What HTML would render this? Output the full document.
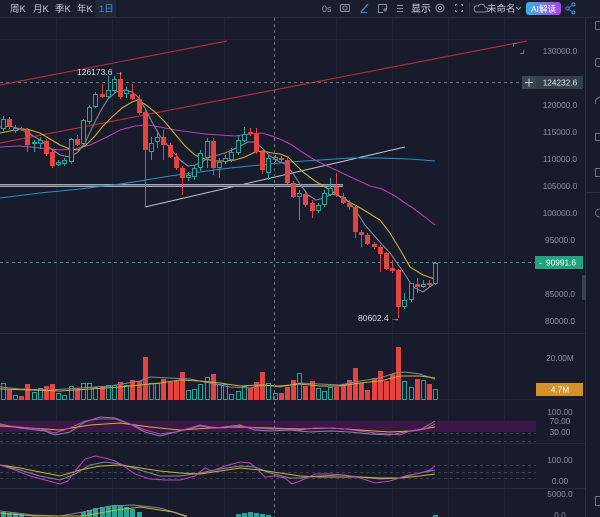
<!DOCTYPE html>
<html><head><meta charset="utf-8"><style>
html,body{margin:0;padding:0;background:#181b2b;width:600px;height:517px;overflow:hidden}
svg{display:block}
text{font-family:"Liberation Sans","Noto Sans CJK SC",sans-serif}
</style></head><body>
<svg width="600" height="517" viewBox="0 0 600 517" xmlns="http://www.w3.org/2000/svg">
<rect x="0" y="0" width="600" height="517" fill="#181b2b"/>
<!-- toolbar -->
<rect x="0" y="0" width="600" height="17" fill="#1a1d2e"/>
<line x1="0" y1="17.5" x2="600" y2="17.5" stroke="#272b3c"/>
<g font-size="9.5" fill="#c4c8d2">
<text x="10" y="12">周K</text><text x="33" y="12">月K</text><text x="55" y="12">季K</text><text x="77" y="12">年K</text>
</g>
<rect x="95" y="0" width="21" height="17" fill="#232839"/>
<text x="99" y="12" font-size="9.5" fill="#3d8fe0">1日</text>
<text x="322" y="12" font-size="9" fill="#9aa0ae">0s</text>
<rect x="340.5" y="4.5" width="9" height="7" rx="1" fill="none" stroke="#8a90a0"/><circle cx="345" cy="8" r="2" fill="none" stroke="#8a90a0"/>
<line x1="361" y1="12" x2="368" y2="4" stroke="#3d8fe0" stroke-width="1.3"/><line x1="361" y1="12.5" x2="367" y2="12.5" stroke="#3d8fe0"/>
<path d="M378.5 4.5 H386.5 V10.5 M378.5 4.5 V12.5 H383" fill="none" stroke="#8a90a0"/><path d="M383 10 h4 M385 8 v4" stroke="#8a90a0"/>
<path d="M397 5.5 h6 M397 8.5 h6 M397 11.5 h6" stroke="#8a90a0"/>
<text x="411" y="12" font-size="10" fill="#d4d7df">显示</text>
<circle cx="440" cy="8" r="4" fill="none" stroke="#8a90a0"/><circle cx="440" cy="8" r="1.5" fill="none" stroke="#8a90a0"/>
<path d="M455.5 6 V4.5 H457 M461 4.5 H462.5 V6 M462.5 10 V11.5 H461 M457 11.5 H455.5 V10" fill="none" stroke="#8a90a0"/>
<line x1="469.5" y1="2" x2="469.5" y2="16" stroke="#2c3042"/>
<path d="M476 12 h9 a2.5 2.5 0 0 0 0-5 a3.5 3.5 0 0 0-6.5-1 a2.8 2.8 0 0 0-2.5 6z" fill="none" stroke="#8a90a0"/>
<text x="487" y="12" font-size="9.5" fill="#c4c8d2">未命名</text>
<path d="M516 7 l2.5 2.5 l2.5-2.5" fill="none" stroke="#8a90a0"/>
<defs><linearGradient id="bt" x1="0" y1="0" x2="1" y2="0"><stop offset="0" stop-color="#35b6e6"/><stop offset="1" stop-color="#b043e6"/></linearGradient></defs>
<rect x="526" y="2" width="35" height="13" rx="3" fill="url(#bt)"/>
<text x="543.5" y="12" font-size="8.5" fill="#ffffff" text-anchor="middle">AI解读</text>
<g stroke="#3d8fe0" fill="none"><circle cx="567.5" cy="8.5" r="1.6"/><circle cx="573.5" cy="4.5" r="1.6"/><circle cx="573.5" cy="12.5" r="1.6"/><path d="M569 7.5 L572 5.5 M569 9.5 L572 11.5"/></g>
<!-- sidebar -->
<rect x="585" y="18" width="15" height="499" fill="#181b2b"/>
<line x1="585.5" y1="18" x2="585.5" y2="517" stroke="#2a2e40"/>
<g fill="none" stroke="#6f7585">
<rect x="595.5" y="21.5" width="8" height="8" rx="1"/><rect x="595.5" y="58.5" width="8" height="8" rx="2"/>
<path d="M595.5 104 v-4 l4-3 l4 3"/><rect x="595.5" y="133.5" width="8" height="7"/><rect x="595.5" y="168.5" width="8" height="8"/>
<circle cx="599.5" cy="213" r="4"/><rect x="595.5" y="496.5" width="8" height="9"/>
</g>
<line x1="586" y1="192.5" x2="600" y2="192.5" stroke="#2a2e40"/>
<rect x="582" y="275" width="4" height="25" rx="1.5" fill="#3a4055"/>
<!-- grid -->
<g stroke="#1f2334">
<line x1="56.5" y1="18" x2="56.5" y2="517"/><line x1="112.5" y1="18" x2="112.5" y2="517"/><line x1="168.5" y1="18" x2="168.5" y2="517"/><line x1="224.5" y1="18" x2="224.5" y2="517"/><line x1="336.5" y1="18" x2="336.5" y2="517"/><line x1="392.5" y1="18" x2="392.5" y2="517"/><line x1="448.5" y1="18" x2="448.5" y2="517"/><line x1="504.5" y1="18" x2="504.5" y2="517"/>
<line x1="0" y1="39.5" x2="585" y2="39.5"/><line x1="0" y1="399.5" x2="585" y2="399.5"/>
</g>
<g stroke="#262a3c"><line x1="0" y1="333.5" x2="585" y2="333.5"/><line x1="0" y1="443.5" x2="585" y2="443.5"/><line x1="0" y1="488.5" x2="585" y2="488.5"/></g>
<!-- rsi band -->
<rect x="0" y="421" width="536" height="11" fill="#3a1747"/>
<g stroke="#3a3f52" stroke-dasharray="3 3"><line x1="0" y1="433.5" x2="536" y2="433.5"/><line x1="0" y1="441.5" x2="536" y2="441.5"/>
<line x1="0" y1="465.5" x2="536" y2="465.5"/><line x1="0" y1="472.5" x2="536" y2="472.5"/><line x1="0" y1="478.5" x2="536" y2="478.5"/></g>
<!-- trend lines -->
<g stroke="#b02a3c" stroke-width="1.2"><line x1="0" y1="85" x2="227" y2="41"/><line x1="0" y1="143" x2="527" y2="41"/></g>
<line x1="145" y1="207" x2="405" y2="147" stroke="#c0c4cc" stroke-width="1"/>
<line x1="0" y1="184.5" x2="343" y2="184.5" stroke="#a0a5b0"/><line x1="0" y1="185.5" x2="343" y2="185.5" stroke="#5f6472"/><line x1="0" y1="186.5" x2="343" y2="186.5" stroke="#a0a5b0"/>
<!-- MAs -->
<g fill="none" stroke-width="1.1">
<polyline stroke="#2b8fc6" points="0,198 40,193 80,189 120,184 140,181 170,176 200,172 230,168 260,165 290,162 320,160 350,158 380,158 410,159 435,161"/>
<polyline stroke="#b73fb1" points="0,147 20,146 40,148 60,150 75,149 90,145 105,138 120,130 135,126 148,125 160,127 175,130 190,132 205,134 220,135 235,136 250,134 262,133 272,136 282,140 292,145 302,152 313,159 325,165 340,172 355,179 370,186 382,189 395,196 405,203 413,208 425,217 435,225"/>
<polyline stroke="#c9b52c" points="0,133 15,130 27,129 40,133 50,139 60,145 70,149 78,150 86,145 95,136 103,126 112,117 122,108 132,102 138,100 146,105 155,112 165,122 175,134 185,146 195,155 205,159 215,161 225,161 235,160 245,157 255,152 263,151 272,153 280,154 288,157 295,164 303,172 315,181 330,190 345,200 357,206 367,212 375,217 380,220 390,233 402,253 410,267 423,275 435,279"/>
<polyline stroke="#7f889a" points="0,127 10,126 20,129 30,134 40,140 50,148 60,155 70,157 78,152 85,143 92,128 100,112 108,99 116,92 125,90 132,92 138,97 145,108 152,122 160,136 170,148 180,160 188,166 195,165 202,162 210,157 218,155 225,153 232,150 240,146 248,142 255,142 262,148 270,156 278,161 285,164 292,172 300,184 308,195 316,200 324,198 332,194 343,197 350,203 358,214 365,225 378,240 390,253 402,270 413,287 423,292 435,283"/>
</g>
<!-- red candles -->
<g fill="#e5433f">
<rect x="9" y="117" width="1" height="12"/><rect x="7" y="119" width="5" height="8"/>
<rect x="21" y="127" width="1" height="4"/><rect x="19" y="128" width="5" height="2"/>
<rect x="27" y="128" width="1" height="24"/><rect x="25" y="130" width="5" height="15"/>
<rect x="46" y="139" width="1" height="17"/><rect x="44" y="141" width="5" height="13"/>
<rect x="52" y="150" width="1" height="18"/><rect x="50" y="152" width="5" height="14"/>
<rect x="77" y="135" width="1" height="11"/><rect x="75" y="139" width="5" height="6"/>
<rect x="102" y="84" width="1" height="14"/><rect x="100" y="94" width="5" height="3"/>
<rect x="120" y="72" width="1" height="27"/><rect x="118" y="79" width="5" height="18"/>
<rect x="132" y="84" width="1" height="16"/><rect x="130" y="94" width="5" height="5"/>
<rect x="139" y="95" width="1" height="20"/><rect x="137" y="99" width="5" height="14"/>
<rect x="145" y="110" width="1" height="97"/><rect x="143" y="112" width="5" height="38"/>
<rect x="163" y="130" width="1" height="30"/><rect x="161" y="137" width="5" height="8"/>
<rect x="170" y="143" width="1" height="15"/><rect x="168" y="145" width="5" height="12"/>
<rect x="176" y="153" width="1" height="17"/><rect x="174" y="157" width="5" height="11"/>
<rect x="182" y="166" width="1" height="29"/><rect x="180" y="168" width="5" height="10"/>
<rect x="213" y="138" width="1" height="37"/><rect x="211" y="141" width="5" height="27"/>
<rect x="250" y="128" width="1" height="8"/><rect x="248" y="132" width="5" height="2"/>
<rect x="256" y="128" width="1" height="26"/><rect x="254" y="134" width="5" height="18"/>
<rect x="262" y="150" width="1" height="24"/><rect x="260" y="152" width="5" height="18"/>
<rect x="281" y="156" width="1" height="7"/><rect x="279" y="158" width="5" height="2"/>
<rect x="287" y="158" width="1" height="26"/><rect x="285" y="160" width="5" height="23"/>
<rect x="293" y="181" width="1" height="17"/><rect x="291" y="183" width="5" height="14"/>
<rect x="305" y="192" width="1" height="15"/><rect x="303" y="194" width="5" height="11"/>
<rect x="312" y="200" width="1" height="18"/><rect x="310" y="203" width="5" height="8"/>
<rect x="336" y="173" width="1" height="24"/><rect x="334" y="187" width="5" height="8"/>
<rect x="343" y="193" width="1" height="11"/><rect x="341" y="197" width="5" height="6"/>
<rect x="349" y="200" width="1" height="10"/><rect x="347" y="203" width="5" height="4"/>
<rect x="355" y="205" width="1" height="33"/><rect x="353" y="207" width="5" height="25"/>
<rect x="361" y="230" width="1" height="17"/><rect x="359" y="232" width="5" height="3"/>
<rect x="367" y="233" width="1" height="12"/><rect x="365" y="235" width="5" height="9"/>
<rect x="374" y="242" width="1" height="7"/><rect x="372" y="244" width="5" height="3"/>
<rect x="380" y="245" width="1" height="27"/><rect x="378" y="247" width="5" height="7"/>
<rect x="386" y="252" width="1" height="18"/><rect x="384" y="253" width="5" height="16"/>
<rect x="392" y="260" width="1" height="13"/><rect x="390" y="268" width="5" height="3"/>
<rect x="398" y="269" width="1" height="49"/><rect x="396" y="270" width="5" height="37"/>
<rect x="417" y="278" width="1" height="15"/><rect x="415" y="284" width="5" height="3"/>
<rect x="429" y="280" width="1" height="7"/><rect x="427" y="283" width="5" height="2"/>
</g>
<!-- green candles -->
<g fill="#26a69a">
<rect x="3" y="116" width="1" height="15"/><rect x="15" y="125" width="1" height="8"/><rect x="34" y="140" width="1" height="12"/><rect x="40" y="137" width="1" height="12"/><rect x="58" y="160" width="1" height="6"/><rect x="64" y="158" width="1" height="8"/><rect x="71" y="138" width="1" height="26"/><rect x="83" y="119" width="1" height="26"/><rect x="89" y="105" width="1" height="19"/><rect x="95" y="92" width="1" height="16"/><rect x="108" y="76" width="1" height="22"/><rect x="114" y="76" width="1" height="17"/><rect x="126" y="87" width="1" height="11"/><rect x="151" y="137" width="1" height="23"/><rect x="157" y="130" width="1" height="18"/><rect x="188" y="172" width="1" height="9"/><rect x="194" y="165" width="1" height="15"/><rect x="200" y="150" width="1" height="21"/><rect x="207" y="138" width="1" height="30"/><rect x="219" y="158" width="1" height="20"/><rect x="225" y="155" width="1" height="9"/><rect x="231" y="148" width="1" height="14"/><rect x="238" y="135" width="1" height="20"/><rect x="244" y="127" width="1" height="15"/><rect x="268" y="155" width="1" height="25"/><rect x="275" y="155" width="1" height="7"/><rect x="299" y="190" width="1" height="30"/><rect x="318" y="203" width="1" height="10"/><rect x="324" y="190" width="1" height="17"/><rect x="330" y="178" width="1" height="18"/><rect x="404" y="293" width="1" height="16"/><rect x="411" y="283" width="1" height="19"/><rect x="423" y="280" width="1" height="8"/><rect x="435" y="262" width="1" height="23"/>
</g>
<g fill="#181b2b" stroke="#26a69a" stroke-width="1">
<rect x="1.5" y="119.5" width="4" height="9"/><rect x="13.5" y="128.5" width="4" height="2"/><rect x="32.5" y="142.5" width="4" height="1"/><rect x="38.5" y="140.5" width="4" height="3"/><rect x="56.5" y="162.5" width="4" height="2"/><rect x="62.5" y="160.5" width="4" height="3"/><rect x="69.5" y="139.5" width="4" height="22"/><rect x="81.5" y="120.5" width="4" height="23"/><rect x="87.5" y="107.5" width="4" height="14"/><rect x="93.5" y="94.5" width="4" height="12"/><rect x="106.5" y="90.5" width="4" height="6"/><rect x="112.5" y="79.5" width="4" height="11"/><rect x="124.5" y="90.5" width="4" height="3"/><rect x="149.5" y="143.5" width="4" height="8"/><rect x="155.5" y="137.5" width="4" height="4"/><rect x="186.5" y="175.5" width="4" height="2"/><rect x="192.5" y="168.5" width="4" height="8"/><rect x="198.5" y="153.5" width="4" height="14"/><rect x="205.5" y="141.5" width="4" height="16"/><rect x="217.5" y="162.5" width="4" height="5"/><rect x="223.5" y="158.5" width="4" height="3"/><rect x="229.5" y="152.5" width="4" height="7"/><rect x="236.5" y="140.5" width="4" height="12"/><rect x="242.5" y="134.5" width="4" height="6"/><rect x="266.5" y="158.5" width="4" height="14"/><rect x="273.5" y="157.5" width="4" height="2"/><rect x="297.5" y="193.5" width="4" height="3"/><rect x="316.5" y="205.5" width="4" height="5"/><rect x="322.5" y="193.5" width="4" height="11"/><rect x="328.5" y="188.5" width="4" height="6"/><rect x="402.5" y="300.5" width="4" height="6"/><rect x="409.5" y="283.5" width="4" height="16"/><rect x="421.5" y="284.5" width="4" height="2"/><rect x="433.5" y="263.5" width="4" height="20"/>
</g>
<!-- volume -->
<g fill="#e5433f">
<rect x="7" y="390" width="5" height="10"/><rect x="19" y="396" width="5" height="4"/><rect x="25" y="384" width="5" height="16"/><rect x="44" y="386" width="5" height="14"/><rect x="50" y="384" width="5" height="16"/><rect x="75" y="388" width="5" height="12"/><rect x="100" y="386" width="5" height="14"/><rect x="118" y="382" width="5" height="18"/><rect x="130" y="380" width="5" height="20"/><rect x="137" y="381" width="5" height="19"/><rect x="143" y="357" width="5" height="43"/><rect x="161" y="379" width="5" height="21"/><rect x="168" y="382" width="5" height="18"/><rect x="174" y="381" width="5" height="19"/><rect x="180" y="372" width="5" height="28"/><rect x="211" y="374" width="5" height="26"/><rect x="248" y="388" width="5" height="12"/><rect x="254" y="382" width="5" height="18"/><rect x="260" y="372" width="5" height="28"/><rect x="279" y="393" width="5" height="7"/><rect x="285" y="387" width="5" height="13"/><rect x="291" y="380" width="5" height="20"/><rect x="303" y="386" width="5" height="14"/><rect x="310" y="381" width="5" height="19"/><rect x="334" y="387" width="5" height="13"/><rect x="341" y="384" width="5" height="16"/><rect x="347" y="380" width="5" height="20"/><rect x="353" y="368" width="5" height="32"/><rect x="359" y="383" width="5" height="17"/><rect x="365" y="390" width="5" height="10"/><rect x="372" y="378" width="5" height="22"/><rect x="378" y="371" width="5" height="29"/><rect x="384" y="381" width="5" height="19"/><rect x="390" y="374" width="5" height="26"/><rect x="396" y="347" width="5" height="53"/><rect x="415" y="379" width="5" height="21"/><rect x="427" y="384" width="5" height="16"/>
</g>
<g fill="none" stroke="#26a69a" stroke-width="1">
<rect x="1.5" y="383.5" width="4" height="16"/><rect x="13.5" y="395.5" width="4" height="4"/><rect x="32.5" y="392.5" width="4" height="7"/><rect x="38.5" y="388.5" width="4" height="11"/><rect x="56.5" y="393.5" width="4" height="6"/><rect x="62.5" y="395.5" width="4" height="4"/><rect x="69.5" y="386.5" width="4" height="13"/><rect x="81.5" y="383.5" width="4" height="16"/><rect x="87.5" y="383.5" width="4" height="16"/><rect x="93.5" y="387.5" width="4" height="12"/><rect x="106.5" y="385.5" width="4" height="14"/><rect x="112.5" y="385.5" width="4" height="14"/><rect x="124.5" y="385.5" width="4" height="14"/><rect x="149.5" y="383.5" width="4" height="16"/><rect x="155.5" y="383.5" width="4" height="16"/><rect x="186.5" y="390.5" width="4" height="9"/><rect x="192.5" y="389.5" width="4" height="10"/><rect x="198.5" y="384.5" width="4" height="15"/><rect x="205.5" y="377.5" width="4" height="22"/><rect x="217.5" y="384.5" width="4" height="15"/><rect x="223.5" y="384.5" width="4" height="15"/><rect x="229.5" y="394.5" width="4" height="5"/><rect x="236.5" y="391.5" width="4" height="8"/><rect x="242.5" y="386.5" width="4" height="13"/><rect x="266.5" y="383.5" width="4" height="16"/><rect x="273.5" y="393.5" width="4" height="6"/><rect x="297.5" y="373.5" width="4" height="26"/><rect x="316.5" y="388.5" width="4" height="11"/><rect x="322.5" y="391.5" width="4" height="8"/><rect x="328.5" y="387.5" width="4" height="12"/><rect x="402.5" y="381.5" width="4" height="18"/><rect x="409.5" y="387.5" width="4" height="12"/><rect x="421.5" y="380.5" width="4" height="19"/><rect x="433.5" y="389.5" width="4" height="10"/>
</g>
<g fill="none" stroke-width="1">
<polyline stroke="#7f889a" points="0,387 20,389 50,390 80,388 110,386 140,381 150,377 170,378 190,379 210,383 230,387 250,388 265,385 280,387 300,383 320,384 340,385 360,381 380,378 395,373 405,372 420,374 435,379"/>
<polyline stroke="#c9b52c" points="0,389 30,390 60,391 90,389 120,387 140,385 160,383 180,380 200,381 220,383 240,386 260,385 280,386 300,384 320,386 340,386 360,383 380,381 400,376 420,376 435,378"/>
</g>
<!-- RSI -->
<g fill="none" stroke-width="1">
<polyline stroke="#7f889a" points="0,424 20,428 45,431 55,435 70,432 85,422 100,417 115,418 130,424 145,432 160,436 180,431 200,426 215,428 240,425 255,430 270,431 290,430 310,432 330,431 350,432 370,434 390,435 405,432 420,430 435,421"/>
<polyline stroke="#c9b52c" points="0,426 30,428 60,430 90,425 120,423 150,427 180,430 210,428 240,427 270,428 300,429 330,428 360,430 390,432 410,431 435,427"/>
<polyline stroke="#c43fbc" points="0,425 20,427 40,429 55,433 70,428 85,421 100,419 115,419 130,424 145,430 160,434 175,432 190,428 200,425 210,427 225,428 240,426 255,428 270,429 285,429 300,430 315,428 330,428 345,429 360,431 375,433 390,434 400,435 410,431 425,429 435,424"/>
</g>
<!-- KDJ -->
<g fill="none" stroke-width="1">
<polyline stroke="#7f889a" points="0,465 20,470 40,476 60,480 75,474 90,465 105,462 120,464 140,470 160,476 180,476 200,473 220,469 240,466 255,467 270,473 290,478 300,478 320,476 340,475 360,477 380,479 400,478 420,473 435,470"/>
<polyline stroke="#c9b52c" points="0,465 20,468 40,472 60,476 80,470 100,466 120,465 140,468 160,471 180,473 200,474 220,471 240,468 260,470 280,473 300,476 320,477 340,477 360,477 380,478 400,478 420,476 435,474"/>
<polyline stroke="#c43fbc" points="0,465 15,470 30,476 45,480 60,484 68,481 75,471 85,459 95,456 105,458 115,461 125,467 135,474 150,479 165,480 180,480 195,476 205,468 212,471 225,466 240,462 250,463 258,470 265,477 275,476 285,478 292,484 300,481 315,474 330,474 345,475 360,478 375,483 390,481 405,476 420,473 430,470 435,466"/>
</g>
<!-- MACD -->
<g fill="#26a69a">
<rect x="1" y="512" width="5" height="5"/><rect x="7" y="513" width="5" height="4"/><rect x="13" y="513" width="5" height="4"/><rect x="19" y="514" width="5" height="3"/>
<rect x="81" y="512" width="5" height="5"/><rect x="87" y="510" width="5" height="7"/><rect x="93" y="508" width="5" height="9"/><rect x="100" y="507" width="5" height="10"/><rect x="106" y="506" width="5" height="11"/><rect x="112" y="505" width="5" height="12"/><rect x="118" y="506" width="5" height="11"/><rect x="124" y="507" width="5" height="10"/><rect x="130" y="509" width="5" height="8"/><rect x="137" y="512" width="5" height="5"/>
<rect x="236" y="514" width="5" height="3"/><rect x="242" y="513" width="5" height="4"/><rect x="248" y="512" width="5" height="5"/><rect x="254" y="513" width="5" height="4"/><rect x="260" y="514" width="5" height="3"/><rect x="266" y="515" width="5" height="2"/><rect x="433" y="515" width="5" height="2"/>
</g>
<g fill="none" stroke-width="1">
<polyline stroke="#7f889a" points="0,511 33,515 60,516 83,512 110,506 133,505 160,508 187,516"/>
<polyline stroke="#c9b52c" points="0,513 33,516 83,516 117,510 140,507 173,512 187,517"/>
</g>
<!-- crosshair & price lines -->
<g stroke="#6a7080" stroke-dasharray="3 3"><line x1="274.5" y1="18" x2="274.5" y2="517"/><line x1="0" y1="82.5" x2="522" y2="82.5"/></g>
<line x1="0" y1="262.5" x2="536" y2="262.5" stroke="#3d8c85" stroke-dasharray="3 3"/>
<!-- markers -->
<text x="77" y="75" font-size="8.5" fill="#d8dbe3">126173.6 →</text>
<text x="358" y="321" font-size="8.5" fill="#d8dbe3">80602.4 →</text>
<path d="M513.5 47 V43.5 H517 M520 53.5 H523.5 V50" fill="none" stroke="#6f7585"/>
<!-- axis -->
<g font-size="8.3" fill="#8b90a0" text-anchor="middle">
<text x="560" y="54">130000.0</text><text x="560" y="108">120000.0</text><text x="560" y="135">115000.0</text><text x="560" y="162">110000.0</text><text x="560" y="189">105000.0</text><text x="560" y="216">100000.0</text><text x="560" y="243">95000.0</text><text x="560" y="297">85000.0</text><text x="560" y="324">80000.0</text>
<text x="560" y="361">20.00M</text><text x="560" y="415">100.00</text><text x="560" y="424">70.00</text><text x="560" y="435">30.00</text>
<text x="560" y="463">100.00</text><text x="560" y="484">0.00</text><text x="560" y="497">5000.0</text><text x="560" y="518">0.0</text>
</g>
<rect x="522" y="76" width="14" height="13" fill="#3b4651"/>
<path d="M525 82.5 h8 M529 78.5 v8" stroke="#c8ccd4"/>
<rect x="536" y="76" width="47" height="13" fill="#324049"/>
<text x="560" y="85.5" font-size="8.3" fill="#e6e8ee" text-anchor="middle">124232.6</text>
<rect x="535" y="256" width="48" height="13" fill="#22a37f"/>
<text x="539" y="265.5" font-size="8.3" fill="#ffffff">-</text>
<text x="561" y="265.5" font-size="8.3" fill="#ffffff" text-anchor="middle">90991.6</text>
<rect x="536" y="383" width="47" height="13" fill="#d4922a"/>
<text x="560" y="392.5" font-size="8.3" fill="#ffffff" text-anchor="middle">4.7M</text>
</svg>
</body></html>
